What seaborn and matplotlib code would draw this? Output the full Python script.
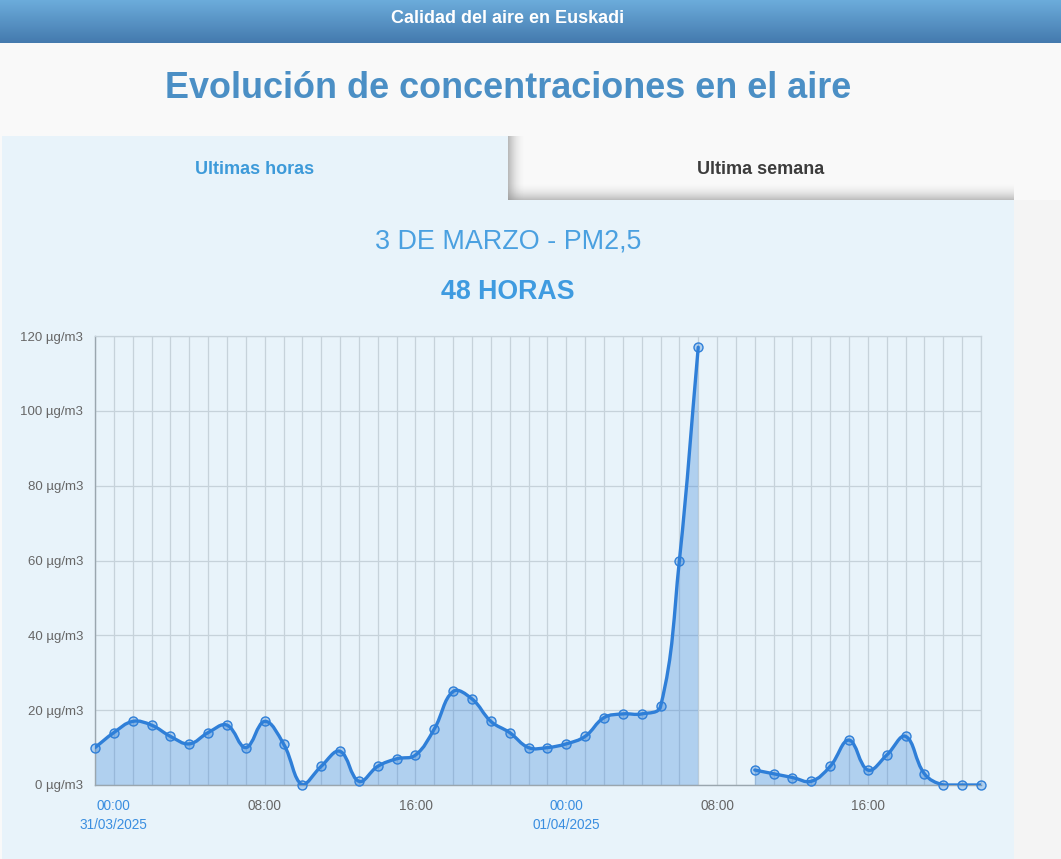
import numpy as np
import matplotlib
matplotlib.use("Agg")
import matplotlib.pyplot as plt
from matplotlib.path import Path
from matplotlib.patches import PathPatch, Rectangle
import seaborn as sns
import pandas as pd

# ---------------- data ----------------
hours = list(range(-1, 47))  # hour offsets from 00:00 31/03/2025
values = [10, 14, 17, 16, 13, 11, 14, 16, 10, 17, 11, 0, 5, 9, 1, 5, 7, 8, 15, 25,
          23, 17, 14, 10, 10, 11, 13, 18, 19, 19, 21, 60, 117, None, None,
          4, 3, 2, 1, 5, 12, 4, 8, 13, 3, 0, 0, 0]
tick_hours = [0, 8, 16, 24, 32, 40]
tick_labels = ["00:00\n31/03/2025", "08:00", "16:00", "00:00\n01/04/2025", "08:00", "16:00"]
date_ticks = [0, 24]
y_ticks = [0, 20, 40, 60, 80, 100, 120]
y_tick_labels = [f"{v} µg/m3" for v in y_ticks]

header_text = "Calidad del aire en Euskadi"
page_title = "Evolución de concentraciones en el aire"
tab_active = "Ultimas horas"
tab_other = "Ultima semana"
chart_title = "3 DE MARZO - PM2,5"
chart_subtitle = "48 HORAS"

# ---------------- style ----------------
sns.set_style("white")
plt.rcParams['font.family'] = ['Liberation Sans', 'DejaVu Sans']

W, H = 1061, 859
fig = plt.figure(figsize=(W / 100, H / 100), dpi=100, facecolor="#f9f9f9")

# background axes in pixel coordinates
bg = fig.add_axes([0, 0, 1, 1])
bg.set_xlim(0, W)
bg.set_ylim(H, 0)
bg.axis("off")
bg.set_zorder(0)

# right gray strip
bg.add_patch(Rectangle((1014, 200), W - 1014, H - 200, color="#f4f4f4", lw=0))
# header gradient
grad = np.linspace(0, 1, 64).reshape(-1, 1)
c_top = np.array([0x6c, 0xac, 0xdb]) / 255
c_bot = np.array([0x44, 0x7a, 0xae]) / 255
img = c_top[None, None, :] * (1 - grad[:, :, None]) + c_bot[None, None, :] * grad[:, :, None]
bg.imshow(img, extent=(0, W, 43, 0), aspect="auto", interpolation="bilinear", zorder=1)
bg.text(508, 18.5, header_text, color="white", fontsize=13, fontweight="bold",
        ha="center", va="center", zorder=5)
# page title
bg.text(508, 89, page_title, color="#4b8fc5", fontsize=25.9, fontweight="bold",
        ha="center", va="center")
# panel + active tab
panel_c = "#e8f3fa"
bg.add_patch(Rectangle((2, 200), 1012, H - 200, color=panel_c, lw=0))
bg.add_patch(Rectangle((2, 136), 506, 66, color=panel_c, lw=0))
# inactive tab with shadow
bg.add_patch(Rectangle((508, 136), 506, 64, color="#f9f9f9", lw=0))
sh = np.linspace(0, 1, 32)
shadow_h = np.ones((1, 32, 4))
shadow_h[..., :3] = 0.55
shadow_h[..., 3] = (1 - sh) ** 2 * 0.6
bg.imshow(shadow_h, extent=(508, 526, 200, 136), aspect="auto", interpolation="bilinear",
          zorder=3)
shadow_v = np.ones((32, 1, 4))
shadow_v[..., :3] = 0.55
shadow_v[..., 3] = (sh[:, None] ** 2) * 0.55
bg.imshow(shadow_v, extent=(508, 1014, 200, 182), aspect="auto", interpolation="bilinear",
          zorder=3)
bg.text(255, 169, tab_active, color="#3d9ad9", fontsize=13, fontweight="bold",
        ha="center", va="center", zorder=5)
bg.text(761, 169, tab_other, color="#3c3c3c", fontsize=13, fontweight="bold",
        ha="center", va="center", zorder=5)
bg.text(508, 241, chart_title, color="#4aa0e0", fontsize=19.4, ha="center", va="center")
bg.text(508, 292, chart_subtitle, color="#3f9be0", fontsize=19.3, fontweight="bold",
        ha="center", va="center")

# ---------------- chart axes ----------------
x0, x1, yt, yb = 95, 981, 336, 785
ax = fig.add_axes([x0 / W, (H - yb) / H, (x1 - x0) / W, (yb - yt) / H])
ax.set_zorder(2)
ax.set_facecolor("none")
ax.set_xlim(-1, 46)
ax.set_ylim(0, 120)

grid_c = "#c6d2da"
ax.set_xticks(hours)
ax.set_yticks(y_ticks)
ax.set_yticklabels(y_tick_labels)
ax.grid(True, color=grid_c, lw=0.9)
ax.set_axisbelow(True)
ax.tick_params(axis="both", length=7.5, width=0.9, color=grid_c, labelcolor="#666666",
               labelsize=9.5, pad=1)
ax.tick_params(axis="x", pad=2.5)
for s in ["top", "right"]:
    ax.spines[s].set_color(grid_c)
    ax.spines[s].set_linewidth(0.9)
for s in ["left", "bottom"]:
    ax.spines[s].set_color("#9aa6ae")
    ax.spines[s].set_linewidth(1.0)

labels = [""] * len(hours)
for h, lab in zip(tick_hours, tick_labels):
    labels[hours.index(h)] = lab
ax.set_xticklabels(labels, fontsize=9.8, linespacing=1.5)
for tl, h in zip(ax.get_xticklabels(), hours):
    tl.set_verticalalignment("top")
    if h in date_ticks:
        tl.set_color("#3a8ee0")

# ---- Chart.js-like spline (tension 0.4) ----
sx = (x1 - x0) / 47.0
sy = (yb - yt) / 120.0
tension = 0.4
line_c = "#2f7fd8"

segments = []
cur = []
for h, v in zip(hours, values):
    if v is None:
        if cur:
            segments.append(cur)
        cur = []
    else:
        cur.append((h, v))
if cur:
    segments.append(cur)

for seg in segments:
    pts = np.array(seg, dtype=float)
    n = len(pts)
    P = np.column_stack([pts[:, 0] * sx, pts[:, 1] * sy])
    prev_c = np.zeros_like(P)
    next_c = np.zeros_like(P)
    for i in range(n):
        f = P[i - 1] if i > 0 else P[i]
        m = P[i]
        a = P[i + 1] if i < n - 1 else P[i]
        d01 = np.hypot(*(m - f))
        d12 = np.hypot(*(a - m))
        tot = d01 + d12
        s01 = d01 / tot if tot > 0 else 0
        s12 = d12 / tot if tot > 0 else 0
        prev_c[i] = m - tension * s01 * (a - f)
        next_c[i] = m + tension * s12 * (a - f)

    def to_data(q):
        return np.array([q[0] / sx, min(max(q[1] / sy, 0), 120)])
    verts = [tuple(pts[0])]
    codes = [Path.MOVETO]
    for i in range(n - 1):
        verts += [tuple(to_data(next_c[i])), tuple(to_data(prev_c[i + 1])), tuple(pts[i + 1])]
        codes += [Path.CURVE4] * 3
    line_path = Path(verts, codes)
    fverts = verts + [(pts[-1, 0], 0), (pts[0, 0], 0), verts[0]]
    fcodes = codes + [Path.LINETO, Path.LINETO, Path.CLOSEPOLY]
    ax.add_patch(PathPatch(Path(fverts, fcodes), facecolor=line_c, alpha=0.3, lw=0, zorder=2))
    ax.add_patch(PathPatch(line_path, facecolor="none", edgecolor=line_c, lw=2.4,
                           capstyle="round", joinstyle="round", zorder=3))

df = pd.DataFrame({"hour": hours, "value": values}).dropna()
sns.scatterplot(data=df, x="hour", y="value", ax=ax, s=42, color=(0.18, 0.5, 0.85, 0.3),
                edgecolor=line_c, linewidth=1.0, zorder=4, clip_on=False, legend=False)
ax.set_xlabel("")
ax.set_ylabel("")
ax.set_xlim(-1, 46)
ax.set_ylim(0, 120)

fig.savefig("out.png", dpi=100, facecolor=fig.get_facecolor())
